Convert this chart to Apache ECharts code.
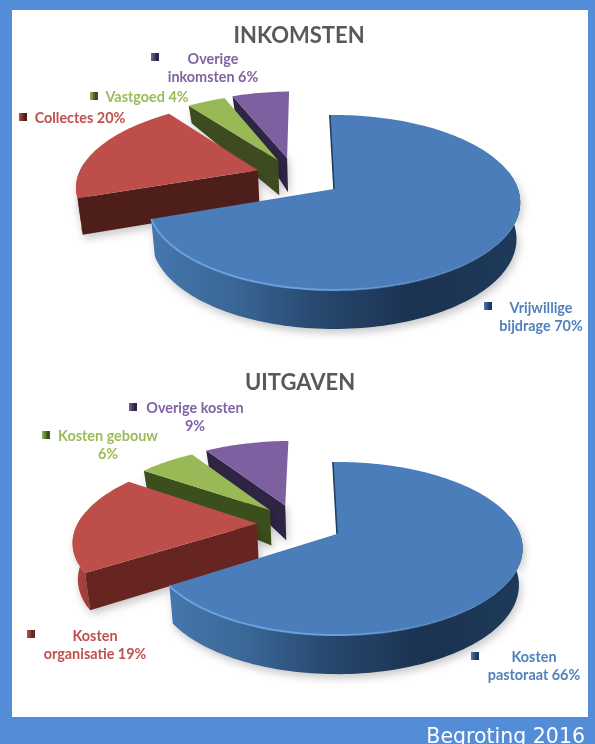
<!DOCTYPE html>
<html>
<head>
<meta charset="utf-8">
<style>
  html, body { margin: 0; padding: 0; background: #538cd7; overflow: hidden; }
  #chart { width: 595px; height: 744px; filter: blur(0.4px); }
</style>
<script src="https://cdn.jsdelivr.net/npm/echarts@6/dist/echarts.min.js"></script>
</head>
<body>
<div id="chart"></div>
<script>
// data
const inkomstenValues = [70, 20, 4, 6]
const inkomstenLabels = ['Vrijwillige\nbijdrage 70%', 'Collectes 20%', 'Vastgoed 4%', 'Overige\ninkomsten 6%']
const uitgavenValues = [66, 19, 6, 9]
const uitgavenLabels = ['Kosten\npastoraat 66%', 'Kosten\norganisatie 19%', 'Kosten gebouw\n6%', 'Overige kosten\n9%']

// colours per slice: blue, red, green, purple
const faceColors = ['#4a7db9', '#bd4e4a', '#98b955', '#7d60a0']
const cutColorsInkomsten = ['#1f3a5c', '#4e1e1b', '#3e4a1f', '#2f2646']
const cutColorsUitgaven = ['#1f3a5c', '#672522', '#3a4f1b', '#2f2444']
const wallLight = ['#4676ad', '#c8554e', '#98b955', '#7d60a0']
const wallDark = ['#1b3250', '#a8413b', '#3e4a1f', '#2f2646']
const textColors = ['#4f81bd', '#c0504d', '#9bbb59', '#8064a2']

// layout of the two pies
const inkomstenLayout = {
  ax: 334, ay: 189, R: 184, H: 85.4, k: 0.154, startDeg: -1.5,
  cutColors: cutColorsInkomsten,
  explode: [[0, 0], [-0.428, -0.226], [-0.32, -0.353], [-0.27, -0.385]],
  labelPos: [[541, 317], [80, 118], [147, 97], [213, 68]],
  markerPos: [[488, 306], [23, 117], [94, 96], [155, 57]]
}
const uitgavenLayout = {
  ax: 337, ay: 534, R: 183, H: 84.1, k: 0.168, startDeg: -1.5,
  cutColors: cutColorsUitgaven,
  explode: [[0, 0], [-0.447, -0.128], [-0.384, -0.295], [-0.3, -0.36]],
  labelPos: [[534, 666], [95, 645], [108, 445], [195, 417]],
  markerPos: [[475, 656], [31, 634], [46, 435], [133, 407]]
}

const rad = Math.PI / 180

// wand dikte: achter in beeld dunner
const depthAt = (v) => (v >= -0.35 ? 35 + (v + 0.35) * 3 : Math.max(14, 35 + (v + 0.35) * 22))

const project = (p, u, v) => {
  const s = 1 / (1 - p.k * v)
  return [p.ax + p.R * u * s, p.ay + p.H * v * s]
}

const lower = (p, pt, v) => [p.ax + (pt[0] - p.ax) * 0.98, pt[1] + depthAt(v)]

const makeRenderer = (layout, values, labels) => {
  const total = values.reduce((a, b) => a + b, 0)
  const cutColors = layout.cutColors
  return (params, api) => {
    const i = params.dataIndex
    const before = values.slice(0, i).reduce((a, b) => a + b, 0)
    const from = layout.startDeg + before / total * 360
    const to = from + api.value(0) / total * 360
    const [du, dv] = layout.explode[i]
    const at = (deg) => {
      const u = Math.sin(deg * rad) + du
      const v = -Math.cos(deg * rad) + dv
      return { top: project(layout, u, v), v }
    }
    const arc = (a, b) => {
      const pts = []
      const n = Math.max(2, Math.ceil(Math.abs(b - a) / 1.5))
      for (let j = 0; j <= n; j++) pts.push(at(a + (b - a) * j / n))
      return pts
    }
    const apex = project(layout, du, dv)
    const apexLow = lower(layout, apex, dv)
    const z = 10 * (5 - i)
    const children = []
    const shadow = { shadowBlur: 9, shadowColor: 'rgba(0,0,0,0.22)', shadowOffsetY: 4, shadowOffsetX: 2 }

    // snijvlak aan de beginkant (voorkant van de losse punten)
    if (i > 0) {
      const edge = at(from)
      children.push({
        type: 'polygon', z2: z,
        shape: { points: [apex, edge.top, lower(layout, edge.top, edge.v), apexLow] },
        style: { fill: cutColors[i], ...shadow }
      })
    }

    // buitenwand, alleen waar die naar de kijker wijst
    if (i === 0 || i === 1) {
      const start = i === 0 ? 78 : from
      const wallTo = i === 0 ? to : 275
      const pts = arc(start, wallTo)
      const poly = pts.map((q) => q.top).concat(pts.slice().reverse().map((q) => lower(layout, q.top, q.v)))
      const xs = poly.map((q) => q[0])
      const x0 = Math.min(...xs)
      const x1 = Math.max(...xs)
      children.push({
        type: 'polygon', z2: z - 1,
        shape: { points: poly },
        style: {
          fill: new echarts.graphic.LinearGradient(x1, 0, x0, 0, [
            { offset: 0, color: i === 0 ? '#1e3a5a' : wallDark[i] },
            { offset: 0.28, color: wallDark[i] },
            { offset: 0.55, color: i === 0 ? '#27486f' : wallDark[i] },
            { offset: 0.78, color: i === 0 ? '#3a6797' : wallDark[i] },
            { offset: 1, color: wallLight[i] }
          ], true),
          ...shadow
        }
      })
    }

    // bovenvlak
    const facePts = [apex].concat(arc(from, to).map((q) => q.top))
    children.push({
      type: 'polygon', z2: z + 2,
      shape: { points: facePts },
      style: { fill: faceColors[i] }
    })

    if (i === 0) {
      // lichte rand langs de voorkant, naar rechts toe uitlopend
      const rim = arc(130, to).map((q) => q.top)
      const rimX = rim.map((q) => q[0])
      children.push({
        type: 'polyline', z2: z + 3,
        shape: { points: rim },
        style: {
          stroke: new echarts.graphic.LinearGradient(Math.min(...rimX), 0, Math.max(...rimX), 0, [
            { offset: 0, color: '#6aa0de' },
            { offset: 0.5, color: '#6aa0de' },
            { offset: 1, color: 'rgba(106,160,222,0)' }
          ], true),
          lineWidth: 2, fill: null
        }
      })
      // donkere snede bij de start
      children.push({
        type: 'polyline', z2: z + 3,
        shape: { points: [apex, at(from).top] },
        style: { stroke: '#21405f', lineWidth: 1.6, fill: null }
      })
    }

    // legendablokje en label
    const [mx, my] = layout.markerPos[i]
    children.push({
      type: 'rect', z2: 100,
      shape: { x: mx - 4, y: my - 4, width: 8, height: 8 },
      style: {
        fill: new echarts.graphic.LinearGradient(0, 0, 1, 0, [
          { offset: 0, color: faceColors[i] },
          { offset: 0.7, color: cutColors[i] },
          { offset: 1, color: cutColors[i] }
        ])
      }
    })
    const [lx, ly] = layout.labelPos[i]
    children.push({
      type: 'text', z2: 100,
      style: {
        text: labels[i], x: lx, y: ly,
        fill: textColors[i], align: 'center', verticalAlign: 'middle',
        font: 'bold 14.4px Lato', lineHeight: 18
      }
    })
    return { type: 'group', children }
  }
}

const chart = echarts.init(document.getElementById('chart'), null, { renderer: 'canvas' })

chart.setOption({
  animation: false,
  backgroundColor: '#538cd7',
  title: [
    { text: 'INKOMSTEN', left: 294, top: 20, textAlign: 'center', textStyle: { color: '#595959', fontFamily: 'Lato', fontWeight: 'bold', fontSize: 22 } },
    { text: 'UITGAVEN', left: 295, top: 367, textAlign: 'center', textStyle: { color: '#595959', fontFamily: 'Lato', fontWeight: 'bold', fontSize: 22 } },
    { text: 'Begroting 2016', left: 580, top: 722, textAlign: 'right', textStyle: { color: '#ffffff', fontFamily: 'DejaVu Sans', fontWeight: 'normal', fontSize: 20.5 } }
  ],
  graphic: [
    { type: 'rect', z: -10, silent: true, shape: { x: 12, y: 10, width: 576, height: 707 }, style: { fill: '#ffffff' } }
  ],
  series: [
    {
      type: 'custom', coordinateSystem: 'none', silent: true,
      renderItem: makeRenderer(inkomstenLayout, inkomstenValues, inkomstenLabels),
      data: inkomstenValues
    },
    {
      type: 'custom', coordinateSystem: 'none', silent: true,
      renderItem: makeRenderer(uitgavenLayout, uitgavenValues, uitgavenLabels),
      data: uitgavenValues
    }
  ]
})
</script>
</body>
</html>
